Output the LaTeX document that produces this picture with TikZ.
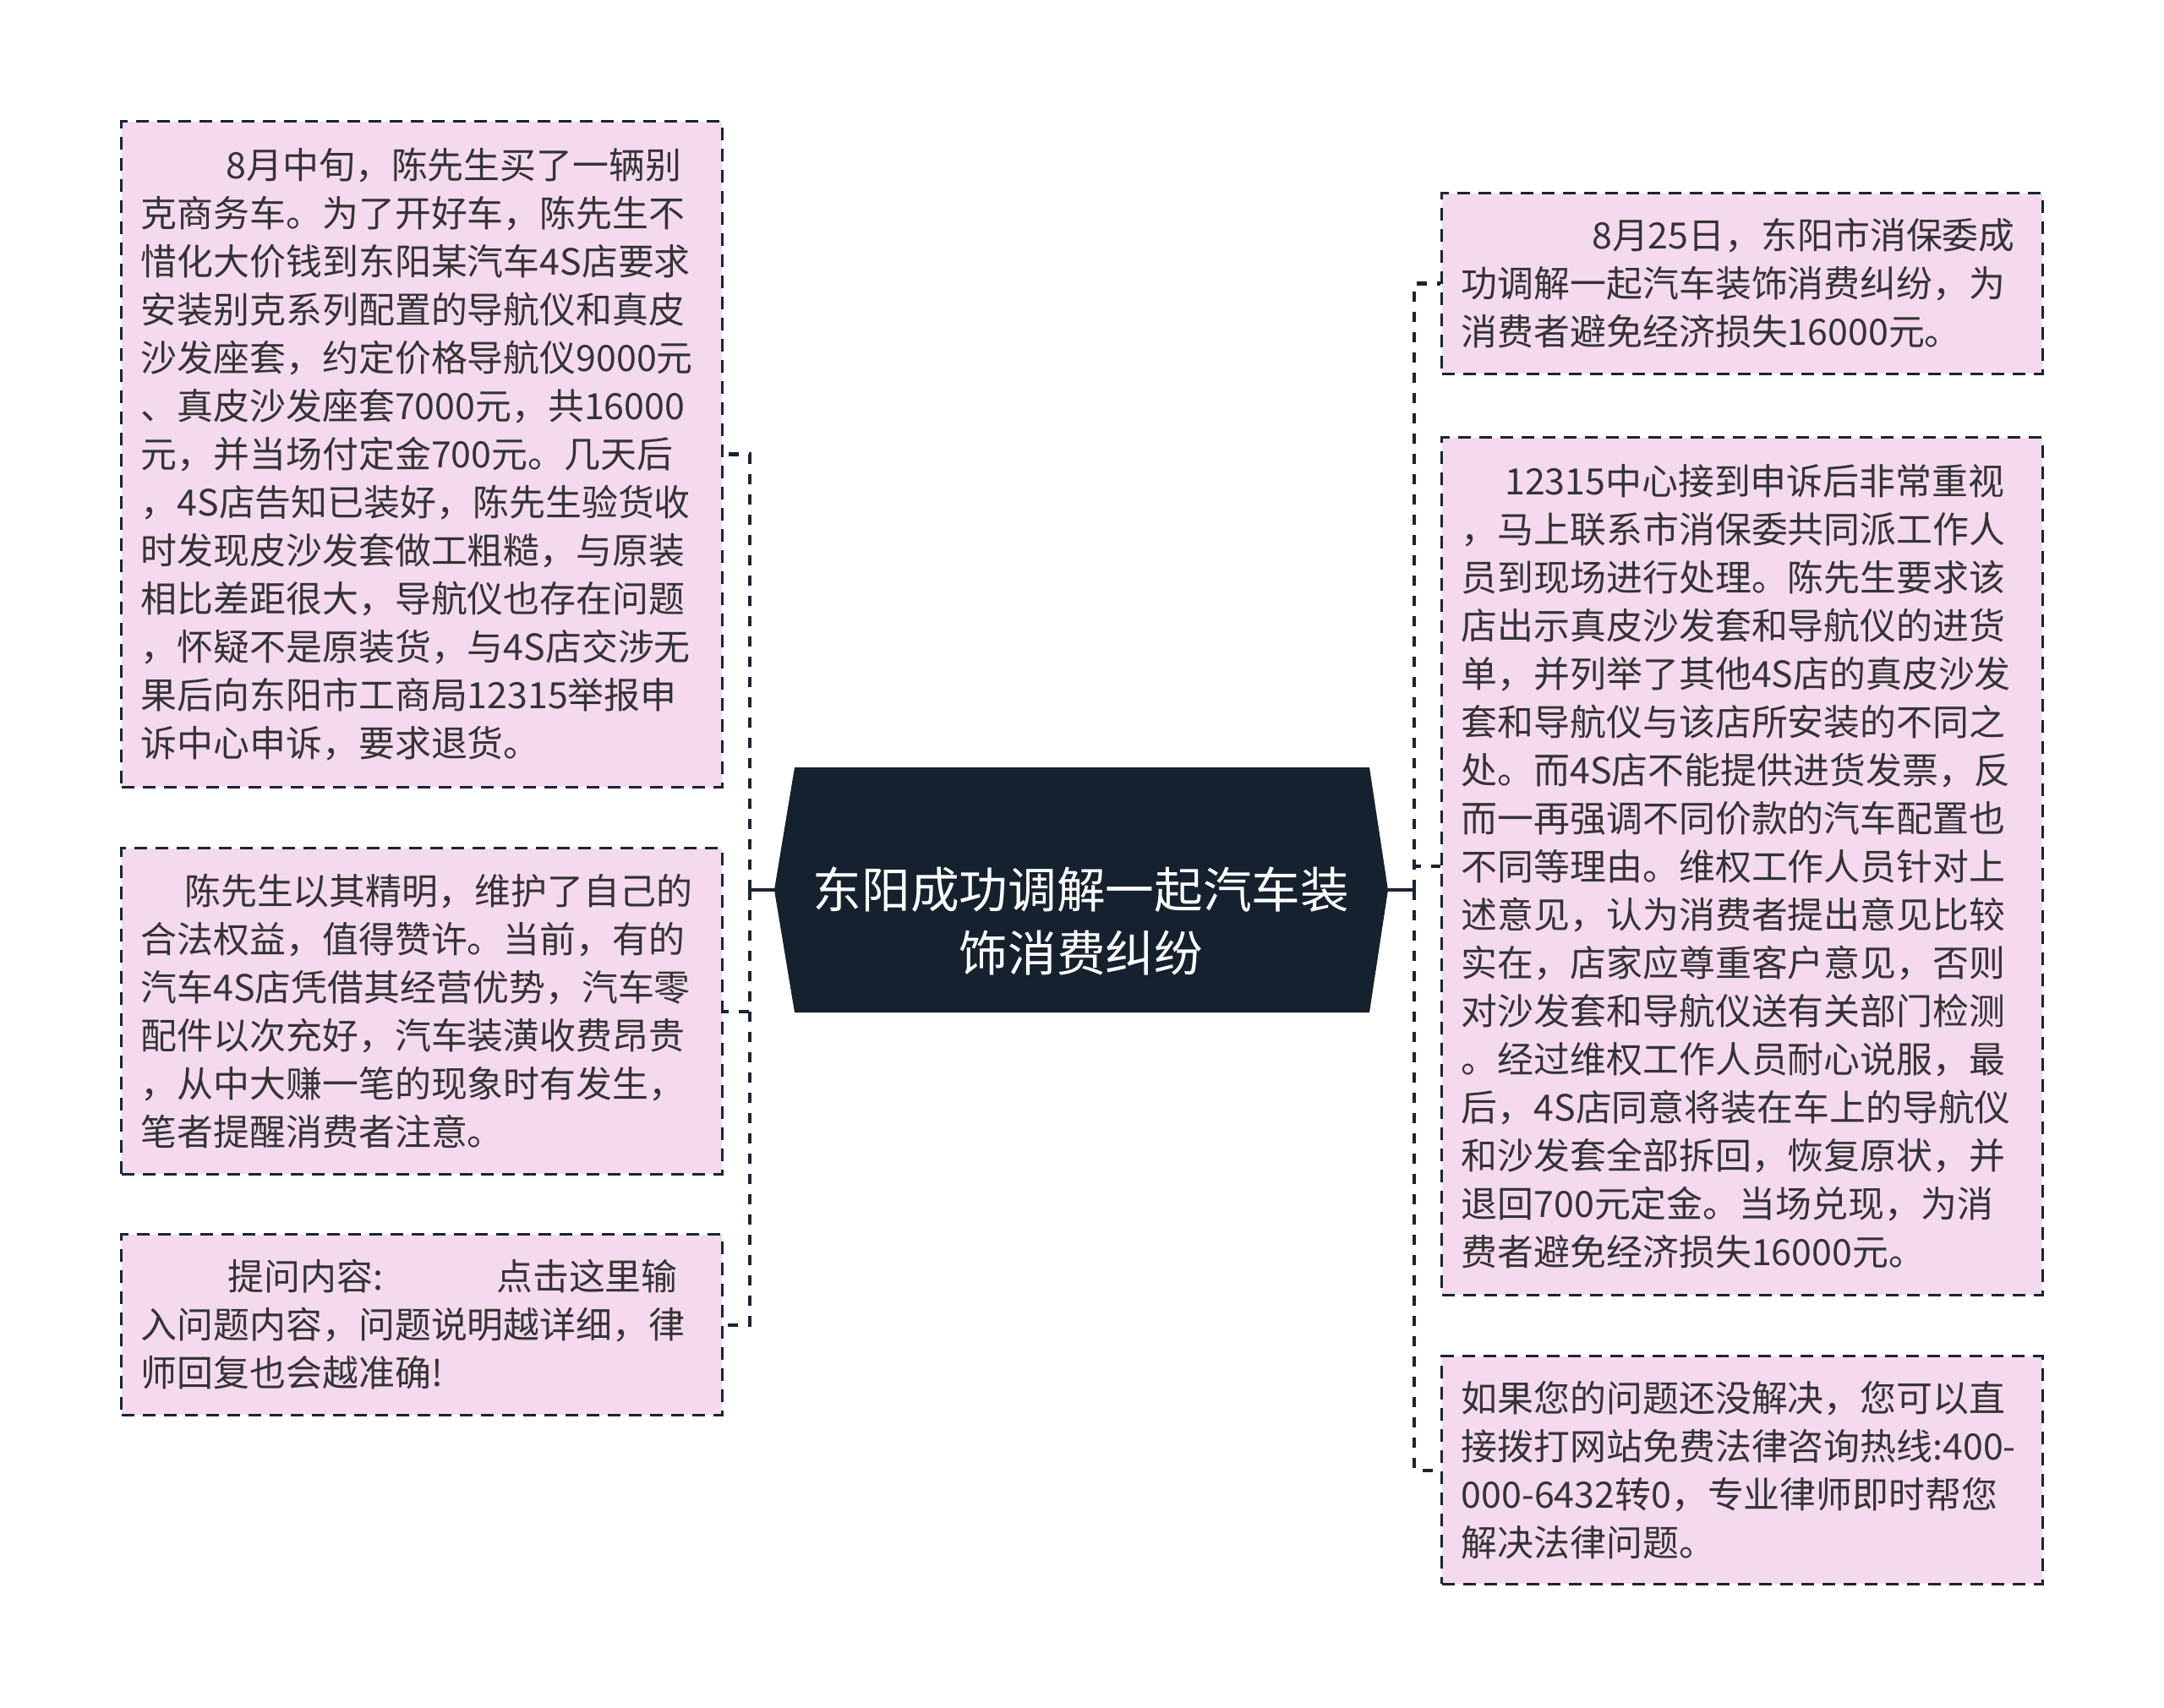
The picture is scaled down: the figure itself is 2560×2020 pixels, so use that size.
\documentclass[tikz,border=0pt]{standalone}
\usepackage{fontspec}
\setmainfont{Noto Sans CJK SC}
\usetikzlibrary{calc}

\definecolor{leafpink}{HTML}{F5DAEF}
\definecolor{hubnavy}{HTML}{16212F}
\definecolor{lineink}{HTML}{1B2432}
\definecolor{txtgray}{HTML}{333333}

\tikzset{
  leaf/.style={draw=lineink, fill=leafpink, line width=0.85pt,
    dash pattern=on 0.15cm off 0.10cm, text=txtgray,
    font=\fontsize{12.2pt}{16.2pt}\selectfont, align=left,
    text width=6.64cm, inner xsep=0.23cm, inner ysep=0pt,
    minimum width=7.1cm},
  branch/.style={draw=lineink, line width=1.15pt,
    dash pattern=on 0.12cm off 0.12cm},
  stub/.style={draw=lineink, line width=0.9pt},
}

\begin{document}
\begin{tikzpicture}[x=0.01cm,y=-0.01cm]
  % Canvas (pixel units)
  \useasboundingbox (0,0) rectangle (2560,2020);

  % Parameters
  \def\xL{499}   % left column
  \def\xR{2061}  % right column

  % Coordinates
  \coordinate (jl) at (887,1053);   % left trunk
  \coordinate (jr) at (1673,1053);  % right trunk
  \coordinate (tl) at (916,1053);   % hub tips
  \coordinate (tr) at (1642,1053);

  % Hub
  \fill[hubnavy] (tl) -- (940,908) -- (1620,908) -- (tr)
    -- (1620,1198) -- (940,1198) -- cycle;
  \node[text=white, align=center,
    font=\fontsize{16.4pt}{21.2pt}\selectfont] (ctr) at (1279,1090)
    {东阳成功调解一起汽车装\\饰消费纠纷};

  % Left leaves
  \node[leaf, minimum height=7.87cm] (L1) at (\xL,537.5) {%
    \hspace*{2.35em}8月中旬，陈先生买了一辆别\\
    克商务车。为了开好车，陈先生不\\
    惜化大价钱到东阳某汽车4S店要求\\
    安装别克系列配置的导航仪和真皮\\
    沙发座套，约定价格导航仪9000元\\
    、真皮沙发座套7000元，共16000\\
    元，并当场付定金700元。几天后\\
    ，4S店告知已装好，陈先生验货收\\
    时发现皮沙发套做工粗糙，与原装\\
    相比差距很大，导航仪也存在问题\\
    ，怀疑不是原装货，与4S店交涉无\\
    果后向东阳市工商局12315举报申\\
    诉中心申诉，要求退货。};
  \node[leaf, minimum height=3.85cm] (L2) at (\xL,1196.5) {%
    \hspace*{1.2em}陈先生以其精明，维护了自己的\\
    合法权益，值得赞许。当前，有的\\
    汽车4S店凭借其经营优势，汽车零\\
    配件以次充好，汽车装潢收费昂贵\\
    ，从中大赚一笔的现象时有发生，\\
    笔者提醒消费者注意。};
  \node[leaf, minimum height=2.13cm] (L3) at (\xL,1567.5) {%
    \makebox[9.8em][l]{\hspace*{2.4em}提问内容:}点击这里输\\
    入问题内容，问题说明越详细，律\\
    师回复也会越准确!};

  % Right leaves
  \node[leaf, minimum height=2.13cm] (R1) at (\xR,335.5) {%
    \hspace*{3.6em}8月25日，东阳市消保委成\\
    功调解一起汽车装饰消费纠纷，为\\
    消费者避免经济损失16000元。};
  \node[leaf, minimum height=10.14cm] (R2) at (\xR,1025) {%
    \hspace*{1.2em}12315中心接到申诉后非常重视\\
    ，马上联系市消保委共同派工作人\\
    员到现场进行处理。陈先生要求该\\
    店出示真皮沙发套和导航仪的进货\\
    单，并列举了其他4S店的真皮沙发\\
    套和导航仪与该店所安装的不同之\\
    处。而4S店不能提供进货发票，反\\
    而一再强调不同价款的汽车配置也\\
    不同等理由。维权工作人员针对上\\
    述意见，认为消费者提出意见比较\\
    实在，店家应尊重客户意见，否则\\
    对沙发套和导航仪送有关部门检测\\
    。经过维权工作人员耐心说服，最\\
    后，4S店同意将装在车上的导航仪\\
    和沙发套全部拆回，恢复原状，并\\
    退回700元定金。当场兑现，为消\\
    费者避免经济损失16000元。};
  \node[leaf, minimum height=2.69cm] (R3) at (\xR,1739.5) {%
    如果您的问题还没解决，您可以直\\
    接拨打网站免费法律咨询热线:400-\\
    000-6432转0，专业律师即时帮您\\
    解决法律问题。};

  % Connectors
  \draw[stub] (tl) -- (jl);
  \draw[stub] (tr) -- (jr);
  \foreach \b in {L1,L2,L3}
    \draw[branch] (jl) |- (\b.east);
  \foreach \b in {R1,R2,R3}
    \draw[branch] (jr) |- (\b.west);
\end{tikzpicture}
\end{document}
